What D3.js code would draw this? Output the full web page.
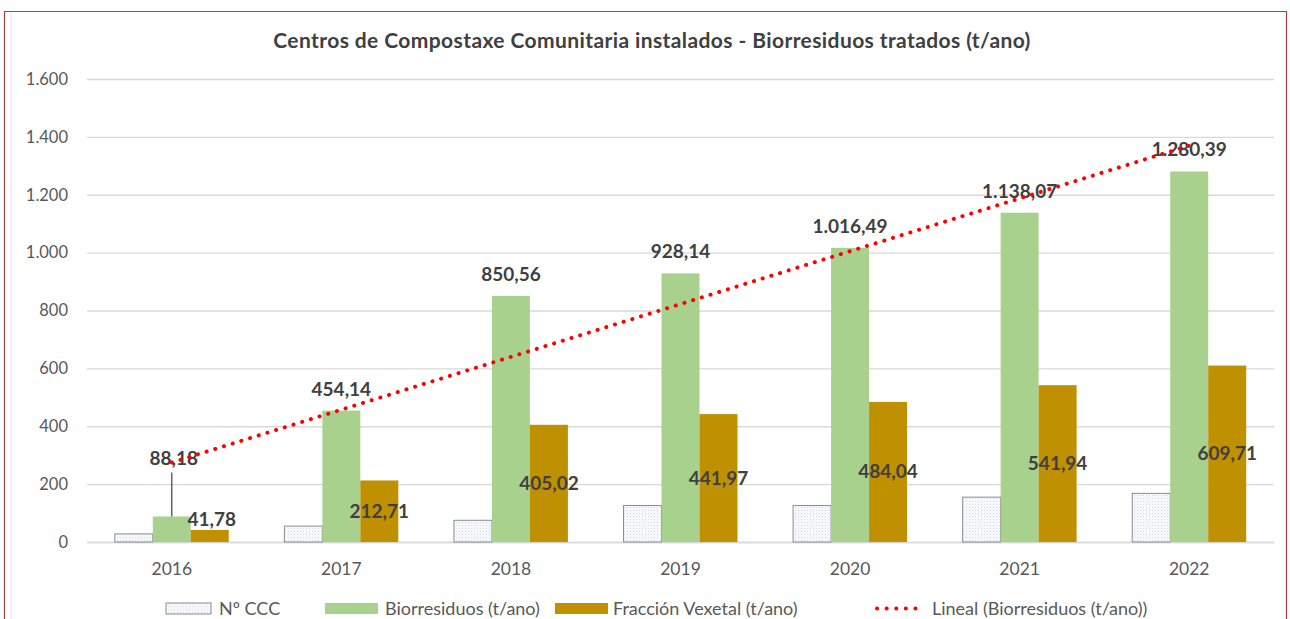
<!DOCTYPE html>
<html>
<head>
<meta charset="utf-8">
<script src="https://cdn.jsdelivr.net/npm/d3@7"></script>
<style>
  body { margin: 0; background: #fff; }
  svg { display: block; font-family: Lato, "Open Sans", sans-serif; }
</style>
</head>
<body>
<svg id="chart" width="1290" height="619"></svg>
<script>
// chart values
var years = ["2016", "2017", "2018", "2019", "2020", "2021", "2022"];
var numCCC = [28, 55, 75, 126, 126, 155, 168];
var biorresiduos = [88.18, 454.14, 850.56, 928.14, 1016.49, 1138.07, 1280.39];
var fraccionVexetal = [41.78, 212.71, 405.02, 441.97, 484.04, 541.94, 609.71];
var yTicks = [0, 200, 400, 600, 800, 1000, 1200, 1400, 1600];
var seriesNames = ["Nº CCC", "Biorresiduos (t/ano)", "Fracción Vexetal (t/ano)"];
var trendName = "Lineal (Biorresiduos (t/ano))";
var titleText = "Centros de Compostaxe Comunitaria instalados - Biorresiduos tratados (t/ano)";

var colors = {
    green: "#a9d18e",
    brown: "#bf9000",
    red: "#ff0000",
    grid: "#d9d9d9",
    axisText: "#595959",
    label: "#404040"
};

var es = d3.formatLocale({decimal: ",", thousands: ".", grouping: [3], currency: ["", " €"]});
var fmtValue = es.format(",.2f");
var fmtTick = es.format(",d");

var svg = d3.select("#chart");

// frame
svg.append("line").attr("x1", 11).attr("y1", 11).attr("x2", 11).attr("y2", 619)
    .style("stroke", "#e4e4e4").style("stroke-width", 1);
svg.append("path")
    .attr("d", "M4.5,619 V11.5 H1286.5 V619")
    .style("fill", "none").style("stroke", "#b04040").style("stroke-width", 1.2);

// pattern for Nº CCC bars
var defs = svg.append("defs");
var pat = defs.append("pattern")
    .attr("id", "dots")
    .attr("width", 3).attr("height", 3)
    .attr("patternUnits", "userSpaceOnUse");
pat.append("rect").attr("width", 3).attr("height", 3).attr("fill", "#fbfcfe");
pat.append("rect").attr("width", 1).attr("height", 1).attr("fill", "#cdd5e6");
pat.append("rect").attr("x", 1.5).attr("y", 1.5).attr("width", 1).attr("height", 1).attr("fill", "#dde3ef");

// scales
var x = d3.scaleBand().domain(years).range([87, 1274]);
var inner = d3.scaleBand().domain([0, 1, 2])
    .range([x.bandwidth() * 0.164, x.bandwidth() * 0.836]);
var y = d3.scaleLinear().domain([0, 1600]).range([542, 79]);

// title
svg.append("text")
    .text(titleText)
    .attr("x", 652)
    .attr("y", 48)
    .attr("text-anchor", "middle")
    .attr("font-size", 21)
    .attr("letter-spacing", 0.4)
    .attr("font-weight", "bold")
    .attr("fill", colors.label);

// gridlines + y labels
var yAxis = d3.axisLeft(y).tickValues(yTicks).tickFormat(fmtTick)
    .tickSize(-(1274 - 87)).tickPadding(19);
var gy = svg.append("g").attr("transform", "translate(87,0)").call(yAxis);
gy.select(".domain").remove();
gy.selectAll(".tick line").style("stroke", colors.grid).style("stroke-width", 1.3);
gy.selectAll(".tick text")
    .attr("fill", colors.axisText)
    .attr("font-size", 16.5)
    .attr("font-family", "Lato, sans-serif");

// x labels
var xAxis = d3.axisBottom(x).tickSize(0).tickPadding(21);
var gx = svg.append("g").attr("transform", "translate(0,542)").call(xAxis);
gx.select(".domain").style("stroke", colors.grid).style("stroke-width", 1.3);
gx.selectAll(".tick text")
    .attr("fill", colors.axisText)
    .attr("font-size", 17.5)
    .attr("font-family", "Lato, sans-serif");

// bars
var bars = svg.append("g");
var seriesData = [numCCC, biorresiduos, fraccionVexetal];
var fills = ["url(#dots)", colors.green, colors.brown];
seriesData.forEach(function(vals, s) {
    bars.selectAll("rect.s" + s)
        .data(vals)
        .enter()
        .append("rect")
        .attr("class", "s" + s)
        .attr("x", function(d, i) { return x(years[i]) + inner(s); })
        .attr("y", function(d) { return y(d); })
        .attr("width", inner.bandwidth())
        .attr("height", function(d) { return y(0) - y(d); })
        .style("fill", fills[s])
        .style("stroke", s === 0 ? "#8c8c8c" : "none")
        .style("stroke-width", 1);
});

// data labels
var labels = svg.append("g")
    .attr("font-size", 19)
    .attr("font-weight", "bold")
    .attr("fill", colors.label)
    .attr("text-anchor", "middle");

// Biorresiduos: above the bar (first one pulled up with a leader line)
labels.selectAll("text.bio")
    .data(biorresiduos)
    .enter()
    .append("text")
    .attr("class", "bio")
    .attr("x", function(d, i) { return x(years[i]) + inner(1) + inner.bandwidth() / 2 + (i === 0 ? 2 : 0); })
    .attr("y", function(d, i) { return i === 0 ? y(d) - 51 : y(d) - 15; })
    .text(function(d) { return fmtValue(d); });

svg.append("line")
    .attr("x1", x(years[0]) + inner(1) + inner.bandwidth() / 2)
    .attr("x2", x(years[0]) + inner(1) + inner.bandwidth() / 2)
    .attr("y1", y(biorresiduos[0]) - 44)
    .attr("y2", y(biorresiduos[0]))
    .style("stroke", "#404040").style("stroke-width", 1.2);

// Fracción Vexetal: centred in the bar, first one above it
labels.selectAll("text.fv")
    .data(fraccionVexetal)
    .enter()
    .append("text")
    .attr("class", "fv")
    .attr("x", function(d, i) { return x(years[i]) + inner(2) + inner.bandwidth() / 2 + (i === 0 ? 2 : 0); })
    .attr("y", function(d, i) { return i === 0 ? y(d) - 4 : y(d / 2) + 6.5; })
    .text(function(d) { return fmtValue(d); });

// linear trend of Biorresiduos (least squares)
var n = biorresiduos.length;
var mx = d3.mean(d3.range(n));
var my = d3.mean(biorresiduos);
var slope = d3.sum(biorresiduos, function(d, i) { return (i - mx) * (d - my); }) /
    d3.sum(d3.range(n), function(i) { return (i - mx) * (i - mx); });
var trend = d3.range(n).map(function(i) { return my + slope * (i - mx); });

var trendLine = d3.line()
    .x(function(d, i) { return x(years[i]) + x.bandwidth() / 2; })
    .y(function(d) { return y(d); });

svg.append("path")
    .datum(trend)
    .attr("d", trendLine)
    .style("fill", "none")
    .style("stroke", colors.red)
    .style("stroke-width", 4)
    .style("stroke-linecap", "round")
    .style("stroke-dasharray", "0.1 9");

// legend
var legend = svg.append("g").attr("font-size", 18).attr("fill", colors.axisText);
var legendItems = [
    {name: seriesNames[0], box: 166, text: 219, fill: "url(#dots)"},
    {name: seriesNames[1], box: 325, text: 385, fill: colors.green},
    {name: seriesNames[2], box: 555, text: 613, fill: colors.brown},
    {name: trendName, box: 875, text: 932, fill: null}
];
legendItems.forEach(function(it) {
    if (it.fill) {
        legend.append("rect")
            .attr("x", it.box).attr("y", 603)
            .attr("width", it.fill === "url(#dots)" ? 45 : 53)
            .attr("height", 11)
            .style("fill", it.fill)
            .style("stroke", it.fill === "url(#dots)" ? "#8c8c8c" : "none");
    } else {
        legend.append("line")
            .attr("x1", it.box + 2).attr("x2", it.box + 50)
            .attr("y1", 608.5).attr("y2", 608.5)
            .style("stroke", colors.red)
            .style("stroke-width", 4)
            .style("stroke-linecap", "round")
            .style("stroke-dasharray", "0.1 9.5");
    }
    legend.append("text")
        .attr("x", it.text).attr("y", 614.5)
        .text(it.name);
});
</script>
</body>
</html>
